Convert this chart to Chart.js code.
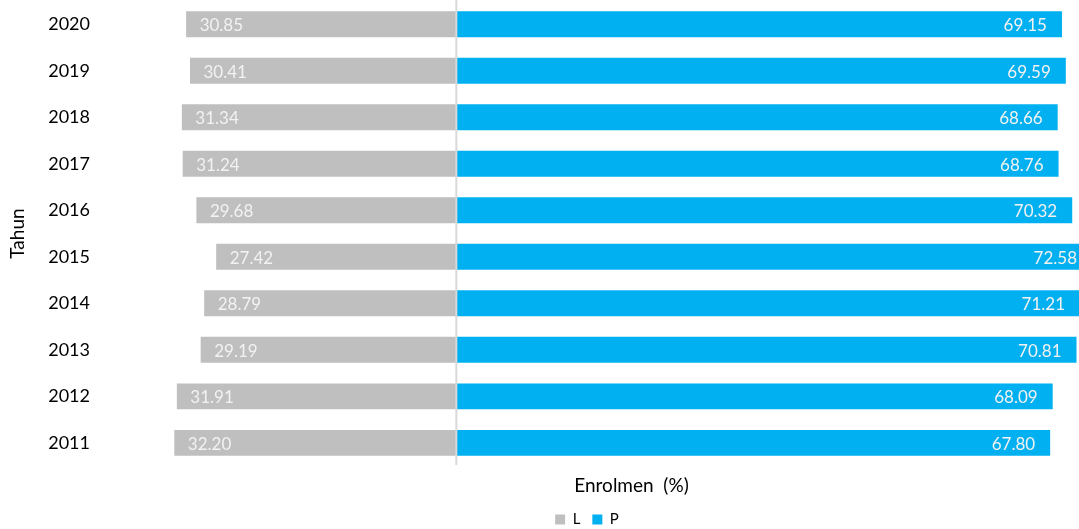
<!DOCTYPE html>
<html>
<head>
<meta charset="utf-8">
<script src="https://cdn.jsdelivr.net/npm/chart.js@4/dist/chart.umd.min.js"></script>
<style>
  html, body { margin: 0; padding: 0; overflow: hidden; background: #fff; }
  #wrap { width: 1178px; height: 537px; position: relative; }
</style>
</head>
<body>
<div id="wrap"><canvas id="myChart" width="1178" height="537"></canvas></div>
<script>
// data
var tahun = ["2020", "2019", "2018", "2017", "2016", "2015", "2014", "2013", "2012", "2011"];
var nilaiL = [30.85, 30.41, 31.34, 31.24, 29.68, 27.42, 28.79, 29.19, 31.91, 32.20];
var nilaiP = [69.15, 69.59, 68.66, 68.76, 70.32, 72.58, 71.21, 70.81, 68.09, 67.80];

var fonte = "Lato, 'Open Sans', sans-serif";

// L goes to the left, so negative
var dataL = nilaiL.map(function(v) { return -v; });

// garis tengah + label angka di dalam batang
var labelPlugin = {
    id: "labelBatang",
    afterDatasetsDraw: function(chart) {
        var ctx = chart.ctx;
        var x0 = chart.scales.x.getPixelForValue(0);
        ctx.save();
        ctx.strokeStyle = "#d9d9d9";
        ctx.lineWidth = 2;
        ctx.beginPath();
        ctx.moveTo(x0, chart.chartArea.top - 1);
        ctx.lineTo(x0, chart.chartArea.bottom - 1);
        ctx.stroke();

        ctx.font = "17px " + fonte;
        ctx.fillStyle = "#f2f2f2";
        ctx.textBaseline = "middle";
        chart.getDatasetMeta(0).data.forEach(function(bar, i) {
            ctx.textAlign = "left";
            ctx.fillText(nilaiL[i].toFixed(2), bar.x + 13.5, bar.y + 1.5);
        });
        chart.getDatasetMeta(1).data.forEach(function(bar, i) {
            ctx.textAlign = "right";
            ctx.fillText(nilaiP[i].toFixed(2), bar.x - 15, bar.y + 1.5);
        });
        ctx.restore();
    }
};

const config = {
    type: "bar",
    data: {
        labels: tahun,
        datasets: [
            {
                label: "L",
                data: dataL,
                backgroundColor: "#bfbfbf",
                barPercentage: 0.557,
                categoryPercentage: 1
            },
            {
                label: "P",
                data: nilaiP,
                backgroundColor: "#00b0f0",
                barPercentage: 0.557,
                categoryPercentage: 1
            }
        ]
    },
    options: {
        indexAxis: "y",
        responsive: false,
        animation: false,
        layout: { padding: { top: 1, right: 21, left: 17, bottom: 0 } },
        plugins: {
            tooltip: { enabled: false },
            legend: {
                position: "bottom",
                labels: {
                    boxWidth: 10,
                    boxHeight: 10,
                    padding: 12,
                    color: "#000",
                    font: { family: fonte, size: 15 }
                }
            }
        },
        scales: {
            x: {
                stacked: true,
                min: -40,
                max: 80,
                border: { display: false },
                grid: { display: false, drawTicks: false },
                ticks: { display: false },
                title: {
                    display: true,
                    text: "Enrolmen  (%)",
                    color: "#000",
                    font: { family: fonte, size: 19 },
                    padding: { top: 8.1, bottom: 3 }
                }
            },
            y: {
                stacked: true,
                border: { display: false },
                grid: { display: false, drawTicks: false },
                ticks: {
                    color: "#000",
                    padding: 16,
                    font: { family: fonte, size: 18 }
                },
                title: {
                    display: true,
                    text: "Tahun",
                    color: "#000",
                    font: { family: fonte, size: 19 },
                    padding: { top: -10.4, bottom: 0 }
                },
                afterFit: function(scale) {
                    scale.width = 89;
                    scale.paddingTop = 0;
                    scale.paddingBottom = 0;
                }
            }
        }
    },
    plugins: [labelPlugin]
};

var myChart = new Chart(document.getElementById("myChart"), config);
</script>
</body>
</html>
